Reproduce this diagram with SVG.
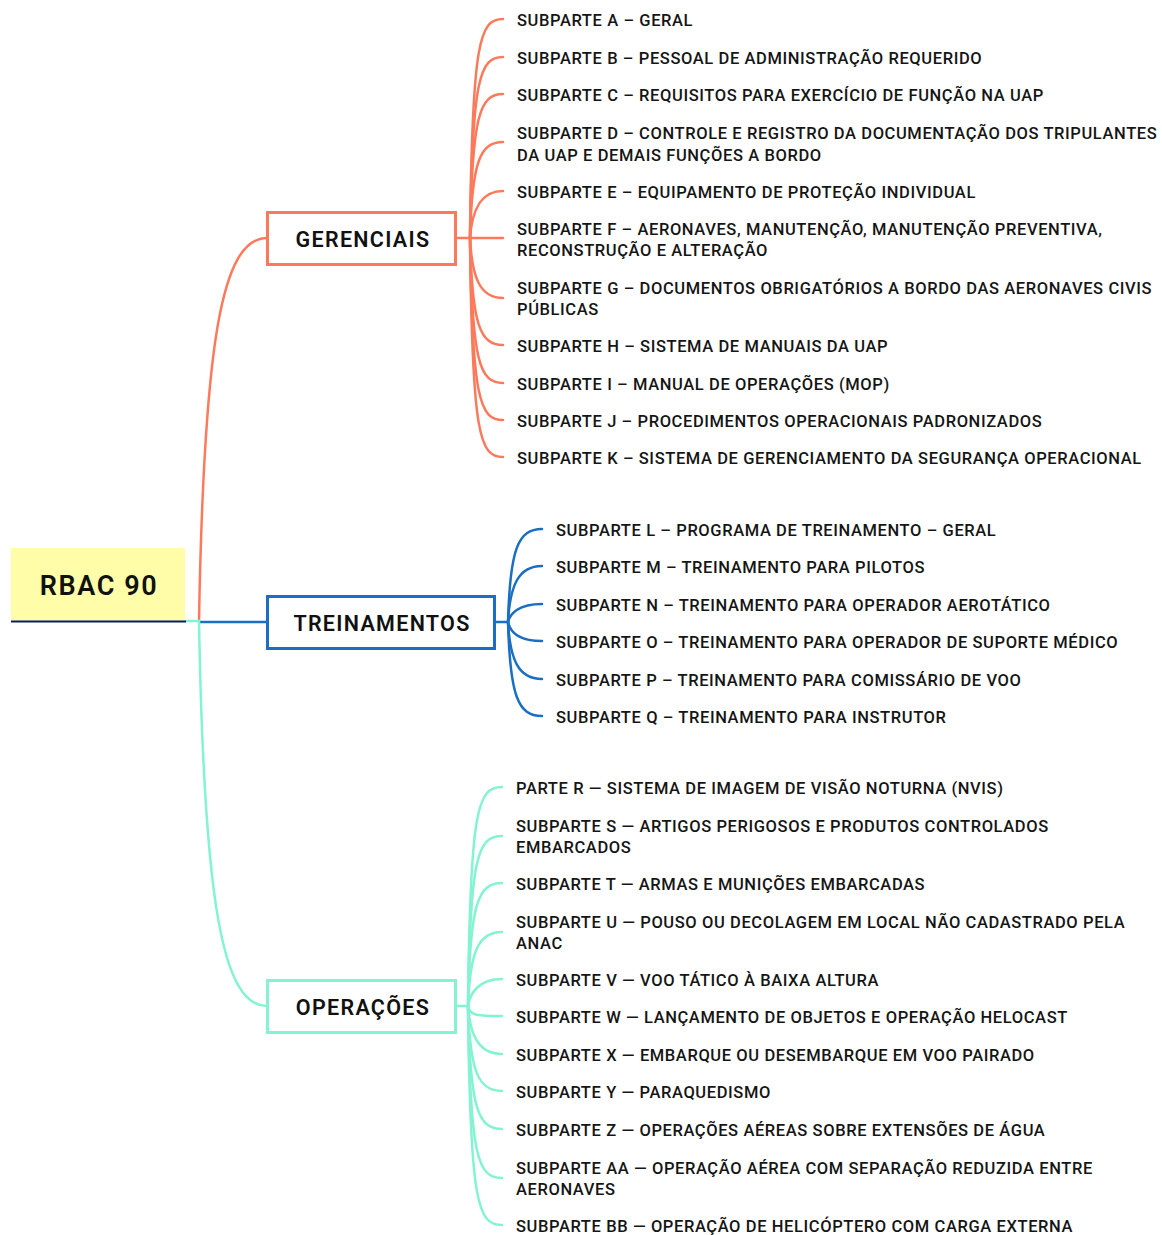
<svg xmlns="http://www.w3.org/2000/svg" width="1162" height="1235" viewBox="0 0 1162 1235">
<style>
.t{font-family:Roboto,"Liberation Sans",sans-serif;font-weight:500;font-size:16.5px;letter-spacing:0.6px;fill:#151515}
.h{font-family:Roboto,"Liberation Sans",sans-serif;font-weight:600;font-size:21.5px;letter-spacing:1.3px;fill:#111;text-anchor:middle}
.o{fill:none;stroke:#FC7A5B;stroke-width:2.5;stroke-linecap:round}
.b{fill:none;stroke:#1B6FC2;stroke-width:2.5;stroke-linecap:round}
.g{fill:none;stroke:#84F3D2;stroke-width:2.5;stroke-linecap:round}
</style>
<rect width="1162" height="1235" fill="#fff"/>
<g id="connectors">
<path class="o" d="M199,621 C204,340 222,238 267,238"/>
<path class="b" d="M200,622 L267,622"/>
<path class="g" d="M186,621 L199,621 C204,900 222,1006 267,1006"/>
<path class="o" d="M456,238 L503,238"/>
<path class="o" d="M470,238 C472,39 480,19 503,19"/>
<path class="o" d="M470,238 C472,77 480,57 503,57"/>
<path class="o" d="M470,238 C472,114 480,94 503,94"/>
<path class="o" d="M470,238 C472,162 480,142 503,142"/>
<path class="o" d="M470,238 C472,211 480,191 503,191"/>
<path class="o" d="M470,238 C472,278 480,298 503,298"/>
<path class="o" d="M470,238 C472,325 480,345 503,345"/>
<path class="o" d="M470,238 C472,363 480,383 503,383"/>
<path class="o" d="M470,238 C472,400 480,420 503,420"/>
<path class="o" d="M470,238 C472,437 480,457 503,457"/>
<path class="b" d="M494,622 L508,622"/>
<path class="b" d="M508,622 C510,549 518,529 542,529"/>
<path class="b" d="M508,622 C510,586 518,566 542,566"/>
<path class="b" d="M508,622 C510,614 518,604 542,604"/>
<path class="b" d="M508,622 C510,631 518,641 542,641"/>
<path class="b" d="M508,622 C510,659 518,679 542,679"/>
<path class="b" d="M508,622 C510,696 518,716 542,716"/>
<path class="g" d="M455,1006 L468,1006"/>
<path class="g" d="M468,1006 C470,807 478,787 502,787"/>
<path class="g" d="M468,1006 C470,856 478,836 502,836"/>
<path class="g" d="M468,1006 C470,903 478,883 502,883"/>
<path class="g" d="M468,1006 C470,952 478,932 502,932"/>
<path class="g" d="M468,1006 C470,994 478,979 502,979"/>
<path class="g" d="M468,1006 C470,1016 478,1016 502,1016"/>
<path class="g" d="M468,1006 C470,1034 478,1054 502,1054"/>
<path class="g" d="M468,1006 C470,1071 478,1091 502,1091"/>
<path class="g" d="M468,1006 C470,1109 478,1129 502,1129"/>
<path class="g" d="M468,1006 C470,1158 478,1178 502,1178"/>
<path class="g" d="M468,1006 C470,1205 478,1225 502,1225"/>
</g>
<g id="root">
<rect x="11" y="548" width="174" height="73" fill="#FFFDA8"/>
<line x1="11" y1="621.5" x2="186" y2="621.5" stroke="#0A1A6E" stroke-width="2"/>
<text x="99" y="595" class="h" style="font-size:27px;letter-spacing:1.6px">RBAC 90</text>
</g>
<g id="gerenciais">
<rect x="267.5" y="212.5" width="188" height="52" fill="#fff" stroke="#FC7A5B" stroke-width="3"/>
<text x="363" y="246.5" class="h">GERENCIAIS</text>
</g>
<g id="treinamentos">
<rect x="267.5" y="596.5" width="227" height="52" fill="#fff" stroke="#1B6FC2" stroke-width="3"/>
<text x="382" y="630.5" class="h">TREINAMENTOS</text>
</g>
<g id="operacoes">
<rect x="267.5" y="980.5" width="188" height="52" fill="#fff" stroke="#84F3D2" stroke-width="3"/>
<text x="363" y="1014.5" class="h">OPERAÇÕES</text>
</g>
<g id="sub-a"><text class="t" x="517" y="26">SUBPARTE A – GERAL</text></g>
<g id="sub-b"><text class="t" x="517" y="64">SUBPARTE B – PESSOAL DE ADMINISTRAÇÃO REQUERIDO</text></g>
<g id="sub-c"><text class="t" x="517" y="101">SUBPARTE C – REQUISITOS PARA EXERCÍCIO DE FUNÇÃO NA UAP</text></g>
<g id="sub-d"><text class="t" x="517" y="139">SUBPARTE D – CONTROLE E REGISTRO DA DOCUMENTAÇÃO DOS TRIPULANTES</text><text class="t" x="517" y="161">DA UAP E DEMAIS FUNÇÕES A BORDO</text></g>
<g id="sub-e"><text class="t" x="517" y="198">SUBPARTE E – EQUIPAMENTO DE PROTEÇÃO INDIVIDUAL</text></g>
<g id="sub-f"><text class="t" x="517" y="235">SUBPARTE F – AERONAVES, MANUTENÇÃO, MANUTENÇÃO PREVENTIVA,</text><text class="t" x="517" y="256">RECONSTRUÇÃO E ALTERAÇÃO</text></g>
<g id="sub-g"><text class="t" x="517" y="294">SUBPARTE G – DOCUMENTOS OBRIGATÓRIOS A BORDO DAS AERONAVES CIVIS</text><text class="t" x="517" y="315">PÚBLICAS</text></g>
<g id="sub-h"><text class="t" x="517" y="352">SUBPARTE H – SISTEMA DE MANUAIS DA UAP</text></g>
<g id="sub-i"><text class="t" x="517" y="390">SUBPARTE I – MANUAL DE OPERAÇÕES (MOP)</text></g>
<g id="sub-j"><text class="t" x="517" y="427">SUBPARTE J – PROCEDIMENTOS OPERACIONAIS PADRONIZADOS</text></g>
<g id="sub-k"><text class="t" x="517" y="464">SUBPARTE K – SISTEMA DE GERENCIAMENTO DA SEGURANÇA OPERACIONAL</text></g>
<g id="sub-l"><text class="t" x="556" y="536">SUBPARTE L – PROGRAMA DE TREINAMENTO – GERAL</text></g>
<g id="sub-m"><text class="t" x="556" y="573">SUBPARTE M – TREINAMENTO PARA PILOTOS</text></g>
<g id="sub-n"><text class="t" x="556" y="611">SUBPARTE N – TREINAMENTO PARA OPERADOR AEROTÁTICO</text></g>
<g id="sub-o"><text class="t" x="556" y="648">SUBPARTE O – TREINAMENTO PARA OPERADOR DE SUPORTE MÉDICO</text></g>
<g id="sub-p"><text class="t" x="556" y="686">SUBPARTE P – TREINAMENTO PARA COMISSÁRIO DE VOO</text></g>
<g id="sub-q"><text class="t" x="556" y="723">SUBPARTE Q – TREINAMENTO PARA INSTRUTOR</text></g>
<g id="sub-r"><text class="t" x="516" y="794">PARTE R — SISTEMA DE IMAGEM DE VISÃO NOTURNA (NVIS)</text></g>
<g id="sub-s"><text class="t" x="516" y="832">SUBPARTE S — ARTIGOS PERIGOSOS E PRODUTOS CONTROLADOS</text><text class="t" x="516" y="853">EMBARCADOS</text></g>
<g id="sub-t"><text class="t" x="516" y="890">SUBPARTE T — ARMAS E MUNIÇÕES EMBARCADAS</text></g>
<g id="sub-u"><text class="t" x="516" y="928">SUBPARTE U — POUSO OU DECOLAGEM EM LOCAL NÃO CADASTRADO PELA</text><text class="t" x="516" y="949">ANAC</text></g>
<g id="sub-v"><text class="t" x="516" y="986">SUBPARTE V — VOO TÁTICO À BAIXA ALTURA</text></g>
<g id="sub-w"><text class="t" x="516" y="1023">SUBPARTE W — LANÇAMENTO DE OBJETOS E OPERAÇÃO HELOCAST</text></g>
<g id="sub-x"><text class="t" x="516" y="1061">SUBPARTE X — EMBARQUE OU DESEMBARQUE EM VOO PAIRADO</text></g>
<g id="sub-y"><text class="t" x="516" y="1098">SUBPARTE Y — PARAQUEDISMO</text></g>
<g id="sub-z"><text class="t" x="516" y="1136">SUBPARTE Z — OPERAÇÕES AÉREAS SOBRE EXTENSÕES DE ÁGUA</text></g>
<g id="sub-aa"><text class="t" x="516" y="1174">SUBPARTE AA — OPERAÇÃO AÉREA COM SEPARAÇÃO REDUZIDA ENTRE</text><text class="t" x="516" y="1195">AERONAVES</text></g>
<g id="sub-bb"><text class="t" x="516" y="1232">SUBPARTE BB — OPERAÇÃO DE HELICÓPTERO COM CARGA EXTERNA</text></g>
</svg>
